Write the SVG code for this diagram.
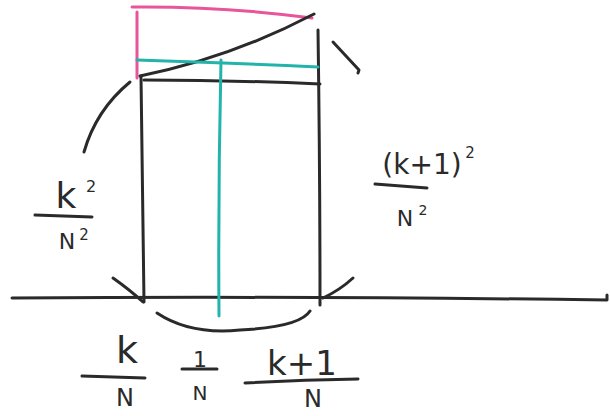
<svg xmlns="http://www.w3.org/2000/svg" width="610" height="416" viewBox="0 0 610 416">
<style>
.ink{fill:none;stroke:#2a2a2a;stroke-width:3;stroke-linecap:round;stroke-linejoin:round}
.pink{fill:none;stroke:#e8559a;stroke-width:3;stroke-linecap:round}
.teal{fill:none;stroke:#22b3aa;stroke-width:3;stroke-linecap:round}
.t{font-family:"DejaVu Sans","Liberation Sans",sans-serif;fill:#2a2a2a;text-anchor:middle}
</style>
<rect width="610" height="416" fill="#ffffff"/>
<g id="pink">
<path class="pink" d="M132,7 Q220,6 312,18"/>
<path class="pink" d="M137,12 L137,78"/>
</g>
<g id="shapes">
<path class="ink" d="M12,298 Q300,296 607,300 L607,295"/>
<path class="ink" d="M141,76 Q143,190 144,302"/>
<path class="ink" d="M318,30 Q320,170 320,305"/>
<path class="ink" d="M144,80 Q230,80 320,84"/>
<path class="ink" d="M140,76 Q230,58 314,14"/>
<path class="teal" d="M137,60 Q230,63 318,67"/>
<path class="teal" d="M221,60 Q218,190 219,316"/>
<path class="ink" d="M130,82 Q96,110 84,152"/>
<path class="ink" d="M113,278 Q130,290 143,302"/>
<path class="ink" d="M333,42 L359,70 L358,73"/>
<path class="ink" d="M323,298 Q340,290 353,278"/>
<path class="ink" d="M157,313 Q190,335 240,330 Q300,327 310,311"/>
<path class="ink" d="M35,215 L92,217"/>
<path class="ink" d="M375,184 L427,188"/>
<path class="ink" d="M82,376 L145,378"/>
<path class="ink" d="M182,369 L217,369"/>
<path class="ink" d="M245,383 Q300,380 358,379"/>
</g>
<g id="labels">
<text class="t" x="66" y="208" font-size="36">k</text>
<text class="t" x="91" y="192" font-size="16">2</text>
<text class="t" x="67" y="249" font-size="22">N</text>
<text class="t" x="84" y="240" font-size="15">2</text>
<text class="t" x="422" y="174" font-size="28">(k+1)</text>
<text class="t" x="470" y="158" font-size="15">2</text>
<text class="t" x="405" y="226" font-size="22">N</text>
<text class="t" x="423" y="215" font-size="14">2</text>
<text class="t" x="127" y="363" font-size="38">k</text>
<text class="t" x="125" y="406" font-size="24">N</text>
<text class="t" x="200" y="367" font-size="22">1</text>
<text class="t" x="200" y="400" font-size="20">N</text>
<text class="t" x="302" y="375" font-size="34">k+1</text>
<text class="t" x="313" y="407" font-size="24">N</text>
</g>
</svg>
